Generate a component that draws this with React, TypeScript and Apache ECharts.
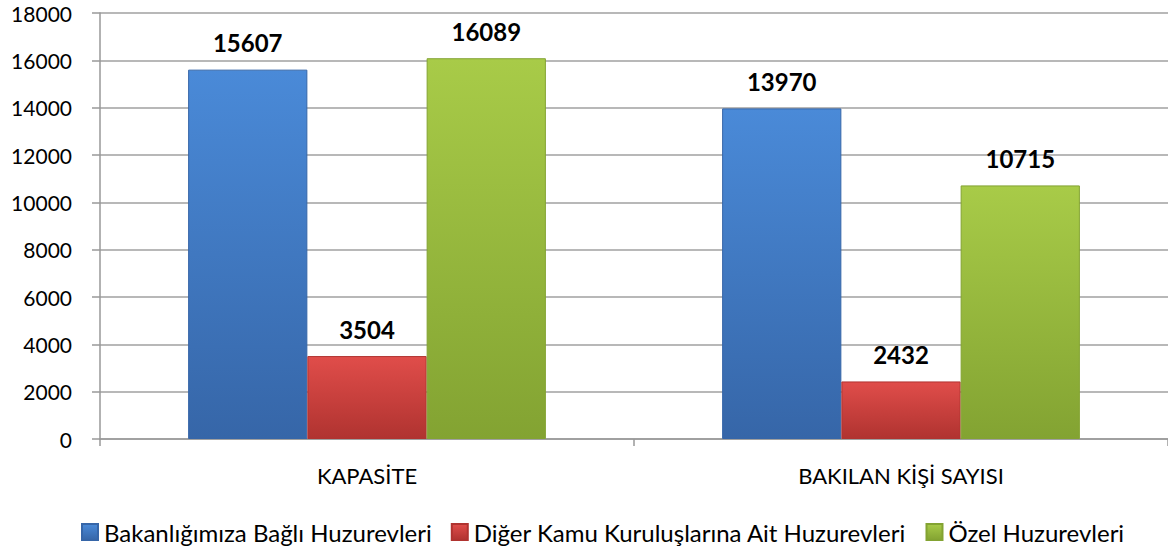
import React, { useEffect, useRef } from "react";
import * as echarts from "echarts";

const categories = ["KAPASİTE", "BAKILAN KİŞİ SAYISI"];
const seriesNames = [
  "Bakanlığımıza Bağlı Huzurevleri",
  "Diğer Kamu Kuruluşlarına Ait Huzurevleri",
  "Özel Huzurevleri",
];
const bakanlik = [15607, 13970];
const digerKamu = [3504, 2432];
const ozel = [16089, 10715];
const yMin = 0;
const yMax = 18000;
const yInterval = 2000;

const grad = (top: string, bottom: string) =>
  new echarts.graphic.LinearGradient(0, 0, 0, 1, [
    { offset: 0, color: top },
    { offset: 1, color: bottom },
  ]);

const FONT = "Lato, 'Open Sans', sans-serif";

export default function App() {
  const ref = useRef<HTMLDivElement>(null);
  useEffect(() => {
    if (!ref.current) return;
    const chart = echarts.init(ref.current, undefined, { renderer: "svg" });
    const label = {
      show: true,
      position: "top" as const,
      distance: 15,
      fontFamily: FONT,
      fontWeight: "bold" as const,
      fontSize: 24,
      color: "#000",
    };
    const colors = [
      ["#4a8ad8", "#3666a8"],
      ["#e04d4a", "#b03330"],
      ["#a8cb48", "#83a332"],
    ];
    const datas = [bakanlik, digerKamu, ozel];
    chart.setOption({
      animation: false,
      textStyle: { fontFamily: FONT },
      grid: { left: 100, right: 0, top: 13, bottom: 111, containLabel: false },
      legend: {
        top: 515,
        left: 76,
        itemWidth: 16,
        itemHeight: 16,
        itemGap: 19,
        icon: "rect",
        textStyle: { fontFamily: FONT, fontSize: 24, color: "#000", padding: [0, 0, 0, 1] },
        data: seriesNames,
      },
      xAxis: {
        type: "category",
        data: categories,
        axisLine: { lineStyle: { color: "#999", width: 1.5 } },
        axisTick: { show: true, length: 7, lineStyle: { color: "#999", width: 1.5 } },
        axisLabel: { fontFamily: FONT, fontSize: 22, color: "#000", margin: 25 },
      },
      yAxis: {
        type: "value",
        min: yMin,
        max: yMax,
        interval: yInterval,
        axisLine: { show: true, lineStyle: { color: "#999", width: 1.5 } },
        axisTick: { show: true, length: 8, lineStyle: { color: "#999", width: 1.5 } },
        axisLabel: {
          fontFamily: FONT,
          fontSize: 21,
          color: "#000",
          margin: 28,
          formatter: (v: number) => String(v),
        },
        splitLine: { lineStyle: { color: "#a0a0a0", width: 1.5 } },
      },
      series: seriesNames.map((name, i) => ({
        name,
        type: "bar",
        data: datas[i],
        barGap: "0%",
        barCategoryGap: "33%",
        itemStyle: {
          color: grad(colors[i][0], colors[i][1]),
          borderColor: colors[i][1],
          borderWidth: 1,
        },
        label,
      })),
    });
    return () => chart.dispose();
  }, []);
  return (
    <div
      ref={ref}
      style={{ position: "fixed", left: 0, top: 0, width: 1168, height: 550, background: "#fff" }}
    />
  );
}
